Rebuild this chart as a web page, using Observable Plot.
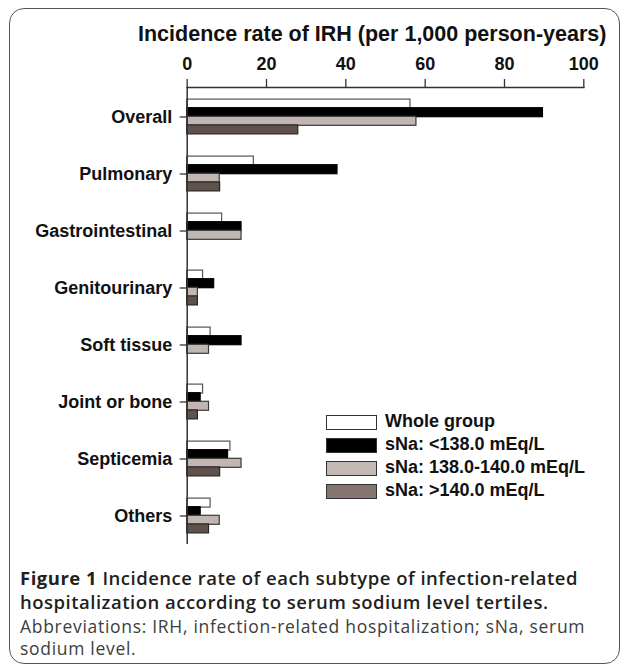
<!DOCTYPE html>
<html>
<head>
<meta charset="utf-8">
<script src="https://cdn.jsdelivr.net/npm/d3@7"></script>
<script src="https://cdn.jsdelivr.net/npm/@observablehq/plot@0.6"></script>
<style>
  html, body { margin: 0; padding: 0; background: #fff; }
  #fig { position: relative; width: 627px; height: 672px; overflow: hidden; }
  #border { position: absolute; left: 9px; top: 8px; width: 611px; height: 656px;
            border: 1.5px solid #555; border-radius: 15px; box-sizing: border-box; }
  #title { position: absolute; left: 138px; top: 23.5px; font: bold 21.5px/21.5px "Liberation Sans", Arial, sans-serif;
           color: #111; white-space: nowrap; }
  #chart { position: absolute; left: 0; top: 0; }
  .leg { position: absolute; left: 326px; font: bold 18px/18px "Liberation Sans", Arial, sans-serif; color: #111; white-space: nowrap; }
  .sw { position: absolute; left: 0; width: 49px; height: 13px; border: 1.3px solid #333; }
  .lt { position: absolute; left: 59px; top: 0; }
  #cap1 { position: absolute; left: 20px; top: 566px; font: 600 18.5px/23.5px "Open Sans", sans-serif; letter-spacing: 0.5px; color: #231f20; white-space: nowrap; }
  #cap2 { position: absolute; left: 20px; top: 614.5px; font: 400 17.5px/22px "Open Sans", sans-serif; letter-spacing: 0.7px; color: #3d3d3d; white-space: nowrap; }
</style>
</head>
<body>
<div id="fig">
  <div id="border"></div>
  <div id="chart"></div>
  <div id="title"></div>
  <div id="legend"></div>
  <div id="cap1"><b style="font-weight:700">Figure 1</b> Incidence rate of each subtype of infection-related<br>hospitalization according to serum sodium level tertiles.</div>
  <div id="cap2">Abbreviations: IRH, infection-related hospitalization; sNa, serum<br>sodium level.</div>
</div>
<script>
const titleText = "Incidence rate of IRH (per 1,000 person-years)";
const categories = ["Overall", "Pulmonary", "Gastrointestinal", "Genitourinary", "Soft tissue", "Joint or bone", "Septicemia", "Others"];
const seriesNames = ["Whole group", "sNa: <138.0 mEq/L", "sNa: 138.0-140.0 mEq/L", "sNa: >140.0 mEq/L"];
const wholeGroup = [56.3, 16.8, 8.8, 4.0, 5.9, 4.0, 10.9, 5.9];
const sNaLow     = [89.7, 37.9, 13.7, 6.8, 13.7, 3.4, 10.3, 3.4];
const sNaMid     = [57.8, 8.2, 13.7, 2.7, 5.5, 5.5, 13.7, 8.2];
const sNaHigh    = [28.0, 8.3, 0, 2.7, 0, 2.7, 8.3, 5.5];
const xTicks = [0, 20, 40, 60, 80, 100];

const seriesValues = [wholeGroup, sNaLow, sNaMid, sNaHigh];
const fills   = ["#ffffff", "#000000", "#c1b6b2", "#5f514c"];
const strokes = ["#555555", "#000000", "#3a3a3a", "#2b2522"];
const legendFills = ["#ffffff", "#000000", "#c3b8b4", "#857571"];
const offsets = [-12.9, -4.3, 4.3, 12.9];

const rows = [];
seriesValues.forEach((vals, si) => vals.forEach((v, ci) => rows.push({category: categories[ci], series: seriesNames[si], value: v})));

document.getElementById("title").textContent = titleText;

const barMarks = seriesNames.map((s, i) =>
  Plot.barX(rows.filter(d => d.series === s && d.value > 0), {
    x: "value", y: "category", fill: fills[i], stroke: strokes[i], strokeWidth: 1.2, dy: offsets[i]
  })
);

const chart = Plot.plot({
  width: 627, height: 556,
  marginLeft: 186.7, marginRight: 43.7, marginTop: 87, marginBottom: 12,
  style: {fontFamily: "'Liberation Sans', Arial, sans-serif", fontSize: "18px", fontWeight: "bold", color: "#111", background: "transparent", overflow: "visible"},
  x: {domain: [0, 100], axis: null},
  y: {domain: categories, paddingInner: 0.85, paddingOuter: 0.37, axis: null},
  marks: [
    ...barMarks,
    Plot.axisX({anchor: "top", ticks: xTicks, tickSize: 9, tickPadding: 8.5, tickFormat: d => String(d), label: null, fontSize: 18, fontWeight: "bold", stroke: "#333", strokeWidth: 1.3}),
    Plot.axisY({anchor: "left", tickSize: 7, tickPadding: 8, label: null, fontSize: 18, fontWeight: "bold", stroke: "#333", strokeWidth: 1.3}),
    Plot.frame({anchor: "top", stroke: "#333", strokeWidth: 1.5}),
    Plot.ruleX([0], {stroke: "#333", strokeWidth: 1.5})
  ]
});
document.getElementById("chart").appendChild(chart);

const leg = document.getElementById("legend");
seriesNames.forEach((s, i) => {
  const row = document.createElement("div");
  row.className = "leg";
  row.style.top = (411.5 + i * 23.3) + "px";
  const sw = document.createElement("div");
  sw.className = "sw";
  sw.style.top = "3px";
  sw.style.background = legendFills[i];
  const t = document.createElement("div");
  t.className = "lt";
  t.textContent = s;
  row.appendChild(sw); row.appendChild(t);
  leg.appendChild(row);
});
</script>
</body>
</html>
